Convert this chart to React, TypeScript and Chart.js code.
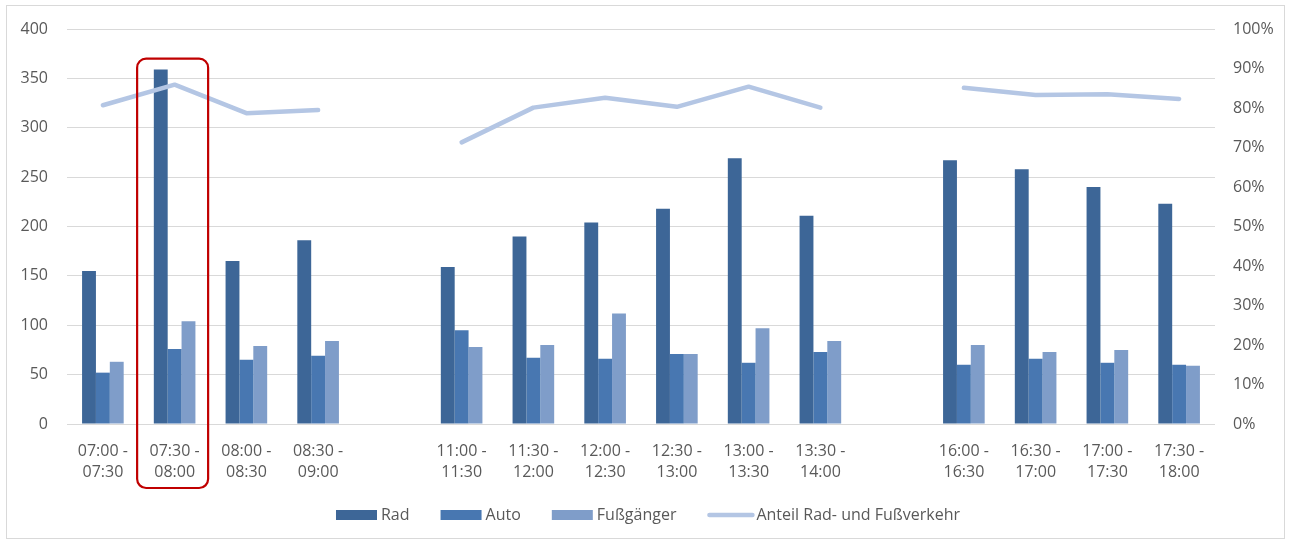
import React, { useEffect, useRef } from 'react';
import { Chart, registerables } from 'chart.js';
Chart.register(...registerables);

const categories: (string | string[])[] = [
  ['07:00 -', '07:30'], ['07:30 -', '08:00'], ['08:00 -', '08:30'], ['08:30 -', '09:00'], '',
  ['11:00 -', '11:30'], ['11:30 -', '12:00'], ['12:00 -', '12:30'], ['12:30 -', '13:00'], ['13:00 -', '13:30'], ['13:30 -', '14:00'], '',
  ['16:00 -', '16:30'], ['16:30 -', '17:00'], ['17:00 -', '17:30'], ['17:30 -', '18:00'],
];
const rad = [155, 359, 165, 186, null, 159, 190, 204, 218, 269, 211, null, 267, 258, 240, 223];
const auto = [52, 76, 65, 69, null, 95, 67, 66, 71, 62, 73, null, 60, 66, 62, 60];
const fuss = [63, 104, 79, 84, null, 78, 80, 112, 71, 97, 84, null, 80, 73, 75, 59];
const anteil = [0.807, 0.859, 0.787, 0.795, null, 0.713, 0.801, 0.826, 0.803, 0.854, 0.801, null, 0.851, 0.833, 0.835, 0.823];
const seriesNames = ['Rad', 'Auto', 'Fußgänger', 'Anteil Rad- und Fußverkehr'];
const highlightIndex = 1;

const C_RAD = '#3D6697';
const C_AUTO = '#4877B1';
const C_FUSS = '#7F9DC9';
const C_LINE = '#B4C6E4';
const TEXT = '#595959';
const FONT = 'Open Sans';

const framePlugin = {
  id: 'frame',
  beforeDraw(chart: any) {
    const ctx = chart.ctx;
    ctx.save();
    ctx.fillStyle = '#ffffff';
    ctx.fillRect(0, 0, chart.width, chart.height);
    ctx.strokeStyle = '#d9d9d9';
    ctx.lineWidth = 1;
    ctx.strokeRect(6.5, 5.5, 1278, 533);
    ctx.restore();
  },
};

const overlayPlugin = {
  id: 'overlay',
  afterDraw(chart: any) {
    const ctx = chart.ctx;
    const x = chart.scales.x;
    const y = chart.scales.y;
    // highlight box
    const c = x.getPixelForValue(highlightIndex);
    const left = c - 37.5;
    const right = c + 33.5;
    const top = y.getPixelForValue(370);
    const bottom = y.bottom + 64;
    const r = 9;
    ctx.save();
    ctx.strokeStyle = '#C00000';
    ctx.lineWidth = 2.2;
    ctx.beginPath();
    ctx.moveTo(left + r, top);
    ctx.lineTo(right - r, top);
    ctx.arcTo(right, top, right, top + r, r);
    ctx.lineTo(right, bottom - r);
    ctx.arcTo(right, bottom, right - r, bottom, r);
    ctx.lineTo(left + r, bottom);
    ctx.arcTo(left, bottom, left, bottom - r, r);
    ctx.lineTo(left, top + r);
    ctx.arcTo(left, top, left + r, top, r);
    ctx.closePath();
    ctx.stroke();

    // legend
    ctx.font = `16px "${FONT}"`;
    ctx.textBaseline = 'middle';
    ctx.fillStyle = TEXT;
    const boxW = 41;
    const gapText = 4;
    const gapItem = 31;
    const widths = seriesNames.map((n, i) => boxW + gapText + (i === 3 ? 4 : 0) + ctx.measureText(n).width);
    const total = widths.reduce((a, b) => a + b, 0) + gapItem * (seriesNames.length - 1);
    let px = chart.width / 2 - total / 2;
    const ly = 515;
    const colors = [C_RAD, C_AUTO, C_FUSS, C_LINE];
    seriesNames.forEach((n, i) => {
      if (i < 3) {
        ctx.fillStyle = colors[i];
        ctx.fillRect(px, ly - 5, boxW, 10);
      } else {
        ctx.strokeStyle = C_LINE;
        ctx.lineWidth = 4.5;
        ctx.lineCap = 'round';
        ctx.beginPath();
        ctx.moveTo(px + 2, ly);
        ctx.lineTo(px + boxW + 4, ly);
        ctx.stroke();
      }
      ctx.fillStyle = TEXT;
      ctx.fillText(n, px + boxW + gapText + (i === 3 ? 4 : 0), ly);
      px += widths[i] + gapItem;
    });
    ctx.restore();
  },
};

export default function App() {
  const ref = useRef<HTMLCanvasElement>(null);
  useEffect(() => {
    if (!ref.current) return;
    const chart = new Chart(ref.current, {
      type: 'bar',
      data: {
        labels: categories as any,
        datasets: [
          {
            type: 'line',
            label: seriesNames[3],
            data: anteil as any,
            yAxisID: 'y1',
            borderColor: C_LINE,
            backgroundColor: C_LINE,
            borderWidth: 4.5,
            borderCapStyle: 'round',
            borderJoinStyle: 'round',
            pointRadius: 0,
            spanGaps: false,
            tension: 0,
            order: 0,
          } as any,
          { label: seriesNames[0], data: rad as any, backgroundColor: C_RAD, yAxisID: 'y', order: 1 },
          { label: seriesNames[1], data: auto as any, backgroundColor: C_AUTO, yAxisID: 'y', order: 1 },
          { label: seriesNames[2], data: fuss as any, backgroundColor: C_FUSS, yAxisID: 'y', order: 1 },
        ],
      },
      options: {
        responsive: false,
        animation: false,
        devicePixelRatio: 1,
        layout: { padding: { top: 29, left: 0, right: 0, bottom: 0 } },
        datasets: { bar: { categoryPercentage: 0.58, barPercentage: 1.0 } } as any,
        plugins: { legend: { display: false }, tooltip: { enabled: false } },
        font: { family: FONT } as any,
        scales: {
          x: {
            grid: { display: false, drawTicks: false },
            border: { display: false },
            ticks: {
              color: TEXT,
              font: { family: FONT, size: 16, lineHeight: 1.3 },
              padding: 17,
              maxRotation: 0,
              autoSkip: false,
            },
            afterFit: (s: any) => { s.height = 118; },
          },
          y: {
            position: 'left',
            min: 0,
            max: 400,
            ticks: { stepSize: 50, color: TEXT, font: { family: FONT, size: 16 }, padding: 19 },
            grid: { color: '#d9d9d9', lineWidth: 1, drawTicks: false },
            border: { display: false },
            afterFit: (s: any) => { s.width = 67; },
          },
          y1: {
            position: 'right',
            min: 0,
            max: 1,
            ticks: {
              stepSize: 0.1,
              color: TEXT,
              font: { family: FONT, size: 16 },
              padding: 18,
              callback: (v: any) => Math.round(Number(v) * 100) + '%',
            },
            grid: { display: false, drawTicks: false },
            border: { display: false },
            afterFit: (s: any) => { s.width = 81; },
          },
        },
      },
      plugins: [framePlugin, overlayPlugin],
    });
    return () => chart.destroy();
  }, []);
  return (
    <div style={{ position: 'absolute', left: 0, top: 0, width: 1296, height: 542 }}>
      <canvas ref={ref} width={1296} height={542} style={{ width: 1296, height: 542, display: 'block' }} />
    </div>
  );
}
